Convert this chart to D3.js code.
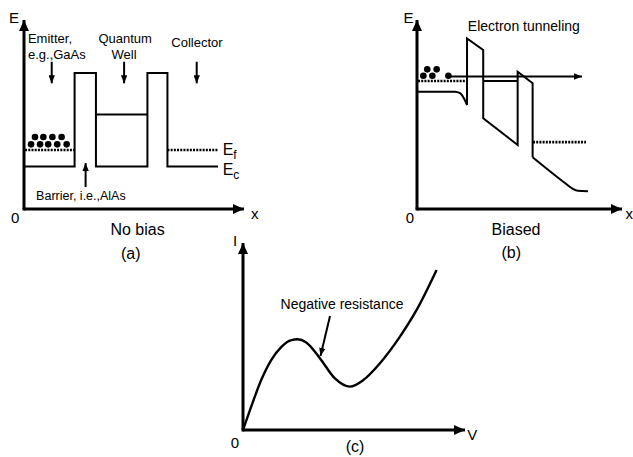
<!DOCTYPE html>
<html><head><meta charset="utf-8">
<script src="https://cdn.jsdelivr.net/npm/d3@7"></script>
<style>
body{margin:0;background:#fff}
svg{display:block;background:#fff}
text{font-family:"Liberation Sans",Arial,Helvetica,sans-serif;fill:#000}
</style>
</head><body>
<svg id="chart" width="633" height="457"></svg>
<script>
// ---------- DATA (position along device, energy) ----------
// Panel (a): no bias
const bandNoBias = [[0.5,22.5],[23,22.5],[23,72],[32.7,72],[32.7,22.5],[56.1,22.5],[56.1,72],[65.2,72],[65.2,22.5],[88.2,22.5]];
const wellLevelNoBias = [[32.7,50],[56.1,50]];
const fermiEmitterNoBias = [[0.5,31.2],[23,31.2]];
const fermiCollectorNoBias = [[65.2,31.2],[88.2,31.2]];
const electronsNoBias = [[5,38.1],[8.8,38.1],[12.9,38.1],[17.1,38.1],[3.2,34.2],[7.3,34.2],[11,34.2],[15.1,34.2],[19.4,34.2]];

// Panel (b): biased
const bandBiasedEmitter = [[0.5,62.1],[18.5,62.1],[21,61.3],[23,58.3],[24.4,55]];
const bandBiasedMiddle = [[24.4,55],[24.4,90.3],[32.3,84.1],[32.3,48],[49.1,33.9],[49.1,72.6],[56.4,66.5],[56.4,27.4]];
const bandBiasedCollector = [[56.4,27.4],[71.5,14.3],[75.5,11],[78.5,9.6],[83.4,9.4]];
const wellLevelBiased = [[32.3,67.7],[49.1,67.7]];
const fermiEmitterBiased = [[0.5,67.7],[23.4,67.7]];
const fermiCollectorBiased = [[56.6,35.4],[82.4,35.4]];
const tunnelingPath = [[15.6,70.1],[80.5,70.1]];
const electronsBiased = [[5,73.9],[9.6,73.9],[3.1,70.5],[7.5,70.5],[15.3,70.5]];

// Panel (c): I-V characteristic (voltage, current)
const ivVoltage = [0,3.7,8.2,12.7,17.3,21.8,24.5,28.5,34.7,41.4,48.2,54.2,61.7,70.7,78.2,87.2];
const ivCurrent = [0,12.5,26.7,37.4,44.5,48.1,48.5,46.8,38.3,27.6,23.2,26.7,35.7,49.9,64.2,85.6];

// Labels
const panelTitles = ["No bias","Biased"];
const panelLetters = ["(a)","(b)","(c)"];

// ---------- DRAWING ----------
const svg = d3.select("#chart");
const defs = svg.append("defs");
function marker(id, len, half){
  defs.append("marker").attr("id",id).attr("markerUnits","userSpaceOnUse")
    .attr("viewBox",`0 ${-half} ${len} ${2*half}`).attr("refX",len).attr("refY",0)
    .attr("markerWidth",len).attr("markerHeight",2*half).attr("orient","auto")
    .append("path").attr("d",`M0,${-half}L${len},0L0,${half}Z`).attr("fill","#000");
}
marker("bigArrow",11,5);
marker("smallArrow",8,3.2);

const lin = d3.line();
const smooth = d3.line().curve(d3.curveMonotoneX);

function axes(g, x, y){
  g.append("line").attr("x1",x(0)).attr("y1",y(0)).attr("x2",x(100)).attr("y2",y(0))
    .attr("stroke","#000").attr("stroke-width",3).attr("marker-end","url(#bigArrow)");
  g.append("line").attr("x1",x(0)).attr("y1",y(0)).attr("x2",x(0)).attr("y2",y(100))
    .attr("stroke","#000").attr("stroke-width",3).attr("marker-end","url(#bigArrow)");
  g.append("rect").attr("x",x(0)-1.5).attr("y",y(0)-1.5).attr("width",3).attr("height",3);
}
function path(g, pts, x, y, gen, w){
  return g.append("path").attr("d",(gen||lin)(pts.map(p=>[x(p[0]),y(p[1])])))
    .attr("fill","none").attr("stroke","#000").attr("stroke-width",w||2).attr("stroke-linejoin","miter");
}
function dotted(g, pts, x, y){
  path(g, pts, x, y, lin, 2.6).attr("stroke-dasharray","2,1.2");
}
function arrow(g, x, y, x1, y1, x2, y2, w){
  g.append("line").attr("x1",x(x1)).attr("y1",y(y1)).attr("x2",x(x2)).attr("y2",y(y2))
    .attr("stroke","#000").attr("stroke-width",w||2).attr("marker-end","url(#smallArrow)");
}
function text(g, str, px, py, size, anchor){
  return g.append("text").attr("x",px).attr("y",py).attr("font-size",size)
    .attr("text-anchor",anchor||"start").text(str);
}

// ---- Panel (a)
const xA = d3.scaleLinear().domain([0,100]).range([24,244]);
const yA = d3.scaleLinear().domain([0,100]).range([209,20]);
const gA = svg.append("g");
path(gA, bandNoBias, xA, yA);
path(gA, wellLevelNoBias, xA, yA);
dotted(gA, fermiEmitterNoBias, xA, yA);
dotted(gA, fermiCollectorNoBias, xA, yA);
gA.selectAll("circle").data(electronsNoBias).join("circle")
  .attr("cx",d=>xA(d[0])).attr("cy",d=>yA(d[1])).attr("r",3.3).attr("fill","#000");
axes(gA, xA, yA);
arrow(gA, xA, yA, 12.6, 77.9, 12.6, 66.5);
arrow(gA, xA, yA, 45.5, 77.9, 45.5, 66.5);
arrow(gA, xA, yA, 78.5, 77.9, 78.5, 66.5);
arrow(gA, xA, yA, 28, 11.6, 28, 24.3);
text(gA, "Emitter,", xA(1.8), yA(87.6), 13);
text(gA, "e.g.,GaAs", xA(1.8), yA(79.6), 13);
text(gA, "Quantum", xA(46), yA(87.6), 13, "middle");
text(gA, "Well", xA(45.5), yA(79.6), 13, "middle");
text(gA, "Collector", xA(78.6), yA(85.7), 13, "middle");
text(gA, "Barrier, i.e.,AlAs", xA(5.5), yA(4.5), 12.5);
const ef = text(gA, "E", xA(90.3), yA(28.6), 16);
ef.append("tspan").attr("font-size",12).attr("dy",4).text("f");
const ec = text(gA, "E", xA(90.3), yA(18), 16);
ec.append("tspan").attr("font-size",12).attr("dy",4).text("c");
text(gA, "E", xA(-6.8), yA(98.4), 15);
text(gA, "0", xA(-4), yA(-7.4), 15, "middle");
text(gA, "x", xA(103.2), yA(-5.3), 15);
text(gA, panelTitles[0], xA(51.6), yA(-14), 16, "middle");
text(gA, panelLetters[0], xA(48.5), yA(-26.2), 16, "middle");

// ---- Panel (b)
const xB = d3.scaleLinear().domain([0,100]).range([417,622]);
const yB = d3.scaleLinear().domain([0,100]).range([209,20]);
const gB = svg.append("g");
path(gB, bandBiasedEmitter, xB, yB, smooth);
path(gB, bandBiasedMiddle, xB, yB);
path(gB, bandBiasedCollector, xB, yB, smooth);
path(gB, wellLevelBiased, xB, yB);
dotted(gB, fermiEmitterBiased, xB, yB);
dotted(gB, fermiCollectorBiased, xB, yB);
gB.selectAll("circle").data(electronsBiased).join("circle")
  .attr("cx",d=>xB(d[0])).attr("cy",d=>yB(d[1])).attr("r",3.3).attr("fill","#000");
arrow(gB, xB, yB, tunnelingPath[0][0], tunnelingPath[0][1], tunnelingPath[1][0], tunnelingPath[1][1]);
axes(gB, xB, yB);
text(gB, "Electron tunneling", xB(24.8), yB(94), 14);
text(gB, "E", xB(-6.6), yB(98.4), 15);
text(gB, "0", xB(-3.4), yB(-7.4), 15, "middle");
text(gB, "x", xB(101.7), yB(-5.3), 15);
text(gB, panelTitles[1], xB(48.3), yB(-14), 16, "middle");
text(gB, panelLetters[1], xB(46), yB(-25.7), 16, "middle");

// ---- Panel (c)
const xC = d3.scaleLinear().domain([0,100]).range([243,465]);
const yC = d3.scaleLinear().domain([0,100]).range([430,243]);
const gC = svg.append("g");
const ivData = ivVoltage.map((v,i)=>[v,ivCurrent[i]]);
path(gC, ivData, xC, yC, d3.line().curve(d3.curveMonotoneX), 2.4);
axes(gC, xC, yC);
arrow(gC, xC, yC, 39.2, 61, 34.9, 39.6);
text(gC, "Negative resistance", xC(44.6), yC(64.7), 14, "middle");
text(gC, "I", xC(-4.5), yC(98.4), 15);
text(gC, "0", xC(-3.6), yC(-9.6), 15, "middle");
text(gC, "V", xC(101), yC(-5.3), 15);
text(gC, panelLetters[2], xC(50.5), yC(-11.8), 16, "middle");
</script>
</body></html>
